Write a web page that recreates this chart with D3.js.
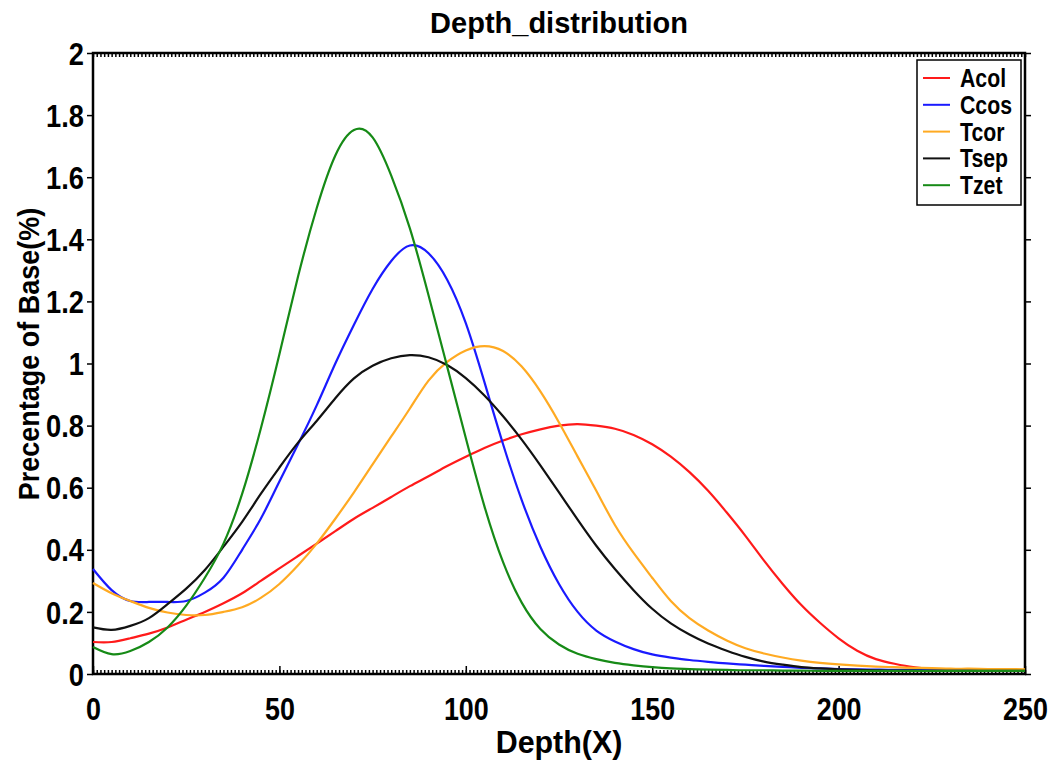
<!DOCTYPE html>
<html>
<head>
<meta charset="utf-8">
<script src="https://cdn.jsdelivr.net/npm/d3@7"></script>
<style>
  body { margin: 0; background: #fff; }
  svg text { font-family: "Liberation Sans", Arial, sans-serif; font-weight: bold; fill: #000; }
</style>
</head>
<body>
<figure style="margin:0"></figure>
<script>
// depth values (X), every 5
const depth = d3.range(0, 251, 5)

const acol = [0.103,0.103,0.115,0.13,0.15,0.175,0.2,0.228,0.26,0.3,0.34,0.38,0.42,0.46,0.5,0.535,0.57,0.605,0.637,0.67,0.70,0.728,0.752,0.772,0.788,0.80,0.805,0.80,0.79,0.77,0.74,0.70,0.65,0.59,0.52,0.445,0.365,0.29,0.222,0.165,0.115,0.075,0.048,0.033,0.022,0.016,0.013,0.012,0.011,0.01,0.01]
const ccos = [0.338,0.27,0.235,0.232,0.232,0.235,0.262,0.31,0.40,0.50,0.62,0.74,0.865,1.0,1.125,1.24,1.33,1.38,1.355,1.27,1.13,0.94,0.74,0.56,0.41,0.29,0.20,0.14,0.105,0.08,0.063,0.053,0.045,0.039,0.034,0.03,0.026,0.023,0.02,0.018,0.016,0.015,0.014,0.013,0.013,0.012,0.012,0.012,0.011,0.011,0.011]
const tcor = [0.293,0.26,0.235,0.213,0.198,0.19,0.19,0.2,0.215,0.245,0.29,0.35,0.42,0.50,0.585,0.675,0.765,0.855,0.945,1.005,1.042,1.056,1.04,0.99,0.91,0.81,0.70,0.59,0.48,0.39,0.31,0.235,0.18,0.14,0.108,0.083,0.066,0.053,0.043,0.036,0.031,0.027,0.024,0.022,0.02,0.019,0.017,0.017,0.016,0.016,0.015]
const tsep = [0.15,0.142,0.155,0.18,0.225,0.275,0.335,0.41,0.49,0.58,0.665,0.745,0.815,0.888,0.952,0.993,1.017,1.027,1.02,0.995,0.953,0.897,0.83,0.755,0.672,0.585,0.497,0.413,0.338,0.27,0.21,0.163,0.127,0.098,0.075,0.055,0.04,0.03,0.022,0.018,0.015,0.013,0.012,0.011,0.011,0.01,0.01,0.01,0.01,0.01,0.01]
const tzet = [0.087,0.064,0.074,0.103,0.15,0.22,0.31,0.42,0.58,0.79,1.03,1.28,1.50,1.67,1.752,1.728,1.605,1.435,1.22,0.99,0.76,0.54,0.36,0.23,0.145,0.095,0.065,0.048,0.036,0.028,0.022,0.018,0.016,0.014,0.013,0.012,0.012,0.011,0.011,0.01,0.01,0.01,0.01,0.01,0.01,0.01,0.01,0.01,0.01,0.01,0.01]

const seriesNames = ["Acol", "Ccos", "Tcor", "Tsep", "Tzet"]
const seriesColors = ["#ff1a1a", "#1a1aff", "#ffaa22", "#111111", "#168a16"]
const seriesValues = [acol, ccos, tcor, tsep, tzet]

const xTicks = [0, 50, 100, 150, 200, 250]
const yTicks = [0, 0.2, 0.4, 0.6, 0.8, 1, 1.2, 1.4, 1.6, 1.8, 2]

const svg = d3.select("figure").append("svg").attr("width", 1055).attr("height", 761),
    margin = {top: 53, bottom: 87, left: 93, right: 30},
    width = 1055 - margin.left - margin.right,
    height = 761 - margin.top - margin.bottom,
    chart = svg.append("g").attr("transform", `translate(${margin.left},${margin.top})`),
    x = d3.scaleLinear().domain([0, 250]).range([0, width]),
    y = d3.scaleLinear().domain([0, 2]).range([height, 0])

const fmt = d => d == 0 ? "0" : d3.format("~g")(d)

// squeeze glyphs horizontally, the original font is a narrow bold
function narrow(sel, k) {
    sel.each(function() {
        const w = this.getComputedTextLength()
        d3.select(this).attr("textLength", w * k).attr("lengthAdjust", "spacingAndGlyphs")
    })
}

// minor ticks on top and bottom, inside
chart.append("g").call(d3.axisBottom(x).tickValues(d3.range(0, 251, 1)).tickSize(-4).tickFormat(""))
    .attr("transform", `translate(0,${height})`)
chart.append("g").call(d3.axisTop(x).tickValues(d3.range(0, 251, 1)).tickSize(-4).tickFormat(""))
// major ticks
chart.append("g").call(d3.axisBottom(x).tickValues(xTicks).tickSize(-8).tickPadding(23).tickFormat(fmt))
    .attr("transform", `translate(0,${height})`)
    .call(g => g.selectAll("text").style("font-size", "32px").call(narrow, 0.84))
chart.append("g").call(d3.axisLeft(y).tickValues(yTicks).tickSize(6).tickPadding(3).tickFormat(fmt))
    .call(g => g.selectAll("text").style("font-size", "31px").attr("dy", "0.36em").call(narrow, 0.88))
chart.append("g").call(d3.axisRight(y).tickValues(yTicks).tickSize(6).tickFormat(""))
    .attr("transform", `translate(${width},0)`)
chart.selectAll(".tick line").attr("stroke-width", 1.5)

chart.append("rect")
    .attr("width", width).attr("height", height)
    .attr("fill", "none").attr("stroke", "#000").attr("stroke-width", 2.5)
chart.selectAll(".domain").remove()

const line = d3.line()
    .x((d, i) => x(depth[i]))
    .y(d => y(d))
    .curve(d3.curveNatural)

chart.append("g").selectAll("path.series")
    .data(seriesValues)
    .enter()
    .append("path").classed("series", true)
        .attr("d", d => line(d))
        .attr("fill", "none")
        .attr("stroke", (_, i) => seriesColors[i])
        .attr("stroke-width", 2.2)

// legend
const legend = svg.append("g").attr("transform", "translate(917,60)")
legend.append("rect").attr("width", 104).attr("height", 145)
    .attr("fill", "#fff").attr("stroke", "#000").attr("stroke-width", 1.5)
const entry = legend.selectAll("g.entry")
    .data(seriesNames)
    .enter()
    .append("g").classed("entry", true)
        .attr("transform", (_, i) => `translate(0,${18 + i * 26.8})`)
entry.append("line").attr("x1", 6).attr("x2", 33)
    .attr("stroke", (_, i) => seriesColors[i]).attr("stroke-width", 2)
entry.append("text").text(d => d)
    .attr("x", 43).attr("dy", "0.36em")
    .style("font-size", "25px")
    .call(narrow, 0.85)

svg.append("text")
    .text("Depth_distribution")
    .attr("x", margin.left + width / 2)
    .attr("y", 33)
    .style("text-anchor", "middle")
    .style("font-size", "29px")

svg.append("text")
    .text("Depth(X)")
    .attr("x", margin.left + width / 2)
    .attr("y", 753)
    .style("text-anchor", "middle")
    .style("font-size", "32px")
    .call(narrow, 0.95)

svg.append("text")
    .text("Precentage of Base(%)")
    .attr("transform", "translate(39,354) rotate(-90)")
    .style("text-anchor", "middle")
    .style("font-size", "29px")
    .call(narrow, 0.93)
</script>
</body>
</html>
